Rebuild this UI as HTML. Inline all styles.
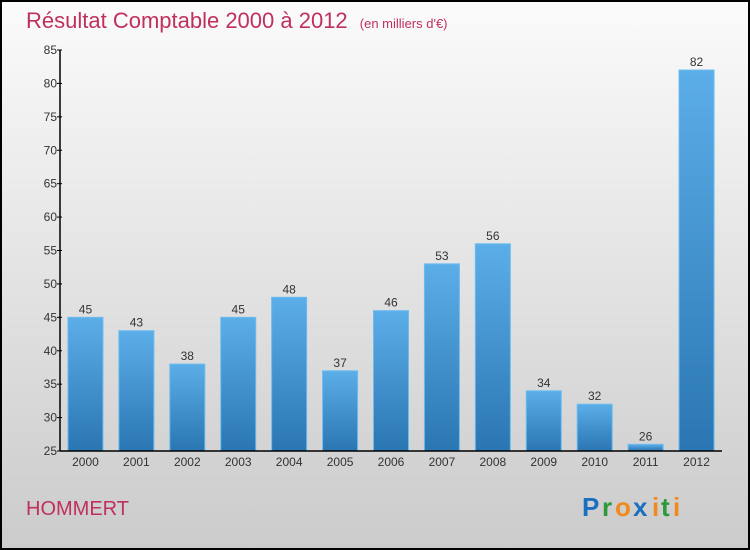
<!DOCTYPE html>
<html><head><meta charset="utf-8"><style>
body{margin:0}
svg{display:block;font-family:"Liberation Sans",sans-serif}
</style></head><body>
<svg id="c" width="750" height="550">
<defs>
<linearGradient id="bg" x1="0" y1="0" x2="0" y2="1"><stop offset="0" stop-color="#fbfbfb"/><stop offset="1" stop-color="#cbcbcb"/></linearGradient>
<linearGradient id="bar" x1="0" y1="0" x2="0" y2="1"><stop offset="0" stop-color="#5caee8"/><stop offset="1" stop-color="#2a76b2"/></linearGradient>
</defs>
<rect x="1" y="1" width="748" height="548" fill="url(#bg)" stroke="#000" stroke-width="2"/>
<text x="26" y="28" font-size="22" fill="#c0305c">Résultat Comptable 2000 à 2012 <tspan font-size="13" dx="6">(en milliers d'€)</tspan></text>
<text x="26" y="515" font-size="20" fill="#c0305c">HOMMERT</text>
<g font-size="26" font-weight="bold">
<text x="582" y="516" fill="#1b6fc0">P</text><text x="602" y="516" fill="#2a9a3a">r</text><text x="615" y="516" fill="#f08a1c">o</text><text x="633" y="516" fill="#1b6fc0">x</text><text x="652" y="516" fill="#f08a1c">i</text><text x="661" y="516" fill="#2a9a3a">t</text><text x="673" y="516" fill="#f08a1c">i</text>
</g>
<g id="plot"></g>
</svg>
<script>
const years=["2000","2001","2002","2003","2004","2005","2006","2007","2008","2009","2010","2011","2012"];
const values=[45,43,38,45,48,37,46,53,56,34,32,26,82];
const yTicks=[25,30,35,40,45,50,55,60,65,70,75,80,85];
const NS="http://www.w3.org/2000/svg";
const g=document.getElementById('plot');
const y0=451,y1=50,vmin=25,vmax=85,xl=60,xr=722;
const y=v=>y0-(v-vmin)/(vmax-vmin)*(y0-y1);
const step=(xr-xl)/years.length;
const x=i=>xl+step*(i+0.5);
function mk(t,a){const e=document.createElementNS(NS,t);for(const k in a)e.setAttribute(k,a[k]);g.appendChild(e);return e;}
values.forEach((v,i)=>{
 const b=mk('rect',{x:x(i)-17.5,y:y(v),width:35,height:y0-y(v),fill:'url(#bar)',stroke:'#6bbcf0','stroke-width':1});
 
 
 const t=mk('text',{x:x(i),y:y(v)-4,'text-anchor':'middle','font-size':12,fill:'#333'});t.textContent=v;
 
 
 const xt=mk('text',{x:x(i),y:y0+15,'text-anchor':'middle','font-size':12,fill:'#333'});xt.textContent=years[i];
 
 
});
yTicks.forEach(v=>{
 mk('line',{x1:xl-3,x2:xl+2,y1:y(v),y2:y(v),stroke:'#000'});
 const t=mk('text',{x:xl-3,y:y(v)+4,'text-anchor':'end','font-size':12,fill:'#333'});t.textContent=v;
 
 
});
const ya=mk('line',{x1:xl,x2:xl,y1:y1,y2:y0,stroke:'#000','stroke-width':1.5});


const xa=mk('line',{x1:xl,x2:xr,y1:y0,y2:y0,stroke:'#000','stroke-width':1.5});


</script>
</body></html>
